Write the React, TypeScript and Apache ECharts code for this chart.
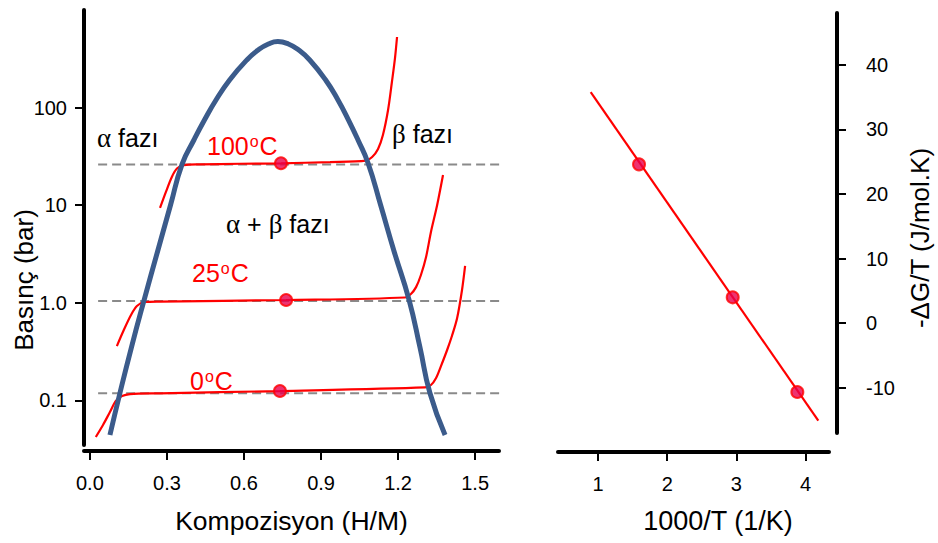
import React, { useEffect, useRef } from 'react';
import * as echarts from 'echarts';

// ---------- Left panel: pressure–composition isotherms ----------
const compositionTicks = [0, 0.3, 0.6, 0.9, 1.2, 1.5];
const pressureTicks = [0.1, 1, 10, 100];

// two-phase dome (α + β)
const domeComposition = [0.078, 0.117, 0.162, 0.211, 0.264, 0.314, 0.359, 0.405, 0.446, 0.491, 0.544, 0.611, 0.655, 0.695, 0.732, 0.773, 0.813, 0.856, 0.918, 0.966, 1.007, 1.044, 1.083, 1.132, 1.184, 1.243, 1.285, 1.324, 1.383];
const domePressure = [0.0443, 0.1194, 0.353, 1.069, 3.40, 10.05, 26.4, 46.6, 74.6, 119.7, 191.9, 307.6, 389, 448.7, 475, 448.7, 389, 307.6, 191.9, 119.7, 74.6, 46.6, 27.1, 10.05, 3.40, 1.069, 0.353, 0.1194, 0.0443];

// isotherms
const iso100Composition = [0.273, 0.296, 0.319, 0.339, 0.366, 0.429, 0.584, 0.744, 0.935, 1.075, 1.099, 1.122, 1.141, 1.161, 1.176, 1.188, 1.196];
const iso100Pressure = [9.38, 13.7, 19.5, 23.8, 25.8, 26.2, 26.6, 26.9, 27.7, 28.7, 31.2, 37.7, 52.5, 94.6, 183, 322, 529];

const iso25Composition = [0.105, 0.132, 0.160, 0.183, 0.214, 0.273, 0.764, 1.227, 1.250, 1.270, 1.289, 1.309, 1.328, 1.352, 1.375];
const iso25Pressure = [0.361, 0.527, 0.751, 0.929, 1.02, 1.03, 1.07, 1.135, 1.233, 1.45, 1.93, 2.95, 5.32, 10.0, 20.4];

const iso0Composition = [0.023, 0.051, 0.078, 0.101, 0.125, 0.156, 0.273, 0.740, 1.305, 1.328, 1.348, 1.367, 1.391, 1.410, 1.430, 1.449, 1.461];
const iso0Pressure = [0.0423, 0.0561, 0.0762, 0.0989, 0.111, 0.1164, 0.1185, 0.125, 0.136, 0.144, 0.170, 0.225, 0.329, 0.46, 0.70, 1.355, 2.39];

// plateau mid-points
const plateauComposition = [0.744, 0.764, 0.740];
const plateauPressure = [26.9, 1.07, 0.125];

// dashed reference lines (plateau pressures), spanning both panels
const refPressure = [26.2, 1.045, 0.1186];
const refStart = [0.032, 0.032, 0.032];
const refEnd = [2.789, 2.789, 2.836];

// ---------- Right panel: van 't Hoff ----------
const invTTicks = [1, 2, 3, 4];
const dgTicks = [-10, 0, 10, 20, 30, 40];
const fitInvT = [0.893, 4.185];
const fitDG = [35.77, -15.1];
const pointInvT = [1.592, 2.947, 3.882];
const pointDG = [24.58, 4.0, -10.65];

const zip = (a: number[], b: number[]) => a.map((v, i) => [v, b[i]]);

const FONT = '"Liberation Sans", Arial, Helvetica, sans-serif';
const SERIF = '"Liberation Serif", "DejaVu Serif", serif';
const RED = '#ff0000';
const axisLine = { show: true, onZero: false, lineStyle: { color: '#000', width: 4 } };
const tick = (vals: number[]) => ({ show: true, length: 9, customValues: vals, lineStyle: { color: '#000', width: 2 } });
const labelBase = { fontSize: 20, color: '#000', fontFamily: FONT };

function buildOption(): any {
  const pressureLabel = (v: number) => (v < 0.5 ? '0.1' : v < 5 ? '1.0' : v < 50 ? '10' : '100');
  const series: any[] = [];
  refPressure.forEach((p, i) => {
    series.push({
      type: 'line', xAxisIndex: 0, yAxisIndex: 0, clip: false, symbol: 'none', z: 1,
      data: [[refStart[i], p], [refEnd[i], p]],
      lineStyle: { color: '#8a8a8a', width: 2, type: [9, 5] },
    });
  });
  const iso = (xs: number[], ys: number[]) => ({
    type: 'line', xAxisIndex: 0, yAxisIndex: 0, symbol: 'none', smooth: 0.3, z: 3,
    data: zip(xs, ys), lineStyle: { color: RED, width: 2.2 },
  });
  series.push(iso(iso100Composition, iso100Pressure));
  series.push(iso(iso25Composition, iso25Pressure));
  series.push(iso(iso0Composition, iso0Pressure));
  series.push({
    type: 'line', xAxisIndex: 0, yAxisIndex: 0, symbol: 'none', smooth: 0.5, z: 4,
    data: zip(domeComposition, domePressure), lineStyle: { color: '#3b5b8b', width: 5 },
  });
  const marker = { color: '#e8004c', borderColor: RED, borderWidth: 2 };
  series.push({
    type: 'scatter', xAxisIndex: 0, yAxisIndex: 0, symbolSize: 12, z: 6,
    data: zip(plateauComposition, plateauPressure), itemStyle: marker,
  });
  series.push({
    type: 'line', xAxisIndex: 1, yAxisIndex: 1, symbol: 'none', z: 3,
    data: zip(fitInvT, fitDG), lineStyle: { color: RED, width: 2.2 },
  });
  series.push({
    type: 'scatter', xAxisIndex: 1, yAxisIndex: 1, symbolSize: 12, z: 6,
    data: zip(pointInvT, pointDG), itemStyle: marker,
  });

  const txt = (x: number, y: number, text: string, extra: any = {}) => ({
    type: 'text', x, y, z: 10, rotation: extra.rotation || 0,
    style: {
      text, fill: extra.fill || '#000', fontSize: extra.fontSize || 25, fontFamily: FONT,
      align: extra.align || 'left', verticalAlign: 'middle', rich: extra.rich,
    },
  });
  const greek = { g: { fontFamily: SERIF, fontSize: 27, fill: '#000' } };
  const tempRich = {
    n: { fontSize: 25, fontFamily: FONT, fill: RED },
    s: { fontSize: 16, fontFamily: FONT, fill: RED, verticalAlign: 'top', padding: [0, 1, 0, 1] },
  };

  return {
    animation: false,
    backgroundColor: '#ffffff',
    grid: [
      { left: 84, top: 10, width: 415, height: 435 },
      { left: 558, top: 13, width: 271, height: 420 },
    ],
    xAxis: [
      {
        gridIndex: 0, type: 'value', min: -0.023, max: 1.593, offset: 6,
        axisLine, axisTick: tick(compositionTicks), splitLine: { show: false },
        axisLabel: { ...labelBase, customValues: compositionTicks, margin: 22, formatter: (v: number) => v.toFixed(1) },
      },
      {
        gridIndex: 1, type: 'value', min: 0.42, max: 4.34, offset: 19,
        axisLine, axisTick: tick(invTTicks), splitLine: { show: false },
        axisLabel: { ...labelBase, customValues: invTTicks, margin: 22, formatter: (v: number) => String(Math.round(v)) },
      },
    ],
    yAxis: [
      {
        gridIndex: 0, type: 'log', logBase: 10, min: 0.035, max: 1000, position: 'left',
        axisLine, axisTick: tick(pressureTicks), splitLine: { show: false }, minorTick: { show: false },
        axisLabel: { ...labelBase, customValues: pressureTicks, margin: 17, formatter: pressureLabel },
      },
      {
        gridIndex: 1, type: 'value', min: -17, max: 48, position: 'right', offset: 8,
        axisLine, axisTick: tick(dgTicks), splitLine: { show: false },
        axisLabel: { ...labelBase, customValues: dgTicks, margin: 29, formatter: (v: number) => String(Math.round(v)) },
      },
    ],
    series,
    graphic: [
      txt(24, 280, 'Basınç (bar)', { rotation: Math.PI / 2, align: 'center', fontSize: 26 }),
      txt(291.5, 521, 'Kompozisyon (H/M)', { align: 'center', fontSize: 26.5 }),
      txt(718, 521, '1000/T (1/K)', { align: 'center', fontSize: 27 }),
      txt(920, 238, '-ΔG/T (J/mol.K)', { rotation: Math.PI / 2, align: 'center', fontSize: 26 }),
      txt(97, 138, '{g|α} fazı', { rich: greek }),
      txt(392, 134, '{g|β} fazı', { rich: greek }),
      txt(226, 224, '{g|α} + {g|β} fazı', { rich: greek }),
      txt(207, 146, '{n|100}{s|o}{n|C}', { rich: tempRich }),
      txt(192, 273, '{n|25}{s|o}{n|C}', { rich: tempRich }),
      txt(190, 381, '{n|0}{s|o}{n|C}', { rich: tempRich }),
    ],
  };
}

export default function App() {
  const ref = useRef<HTMLDivElement>(null);
  useEffect(() => {
    if (!ref.current) return;
    const chart = echarts.init(ref.current, null, { renderer: 'svg' });
    chart.setOption(buildOption());
    return () => chart.dispose();
  }, []);
  return (
    <div
      ref={ref}
      style={{ position: 'fixed', left: 0, top: 0, width: 938, height: 543, background: '#fff' }}
    />
  );
}
